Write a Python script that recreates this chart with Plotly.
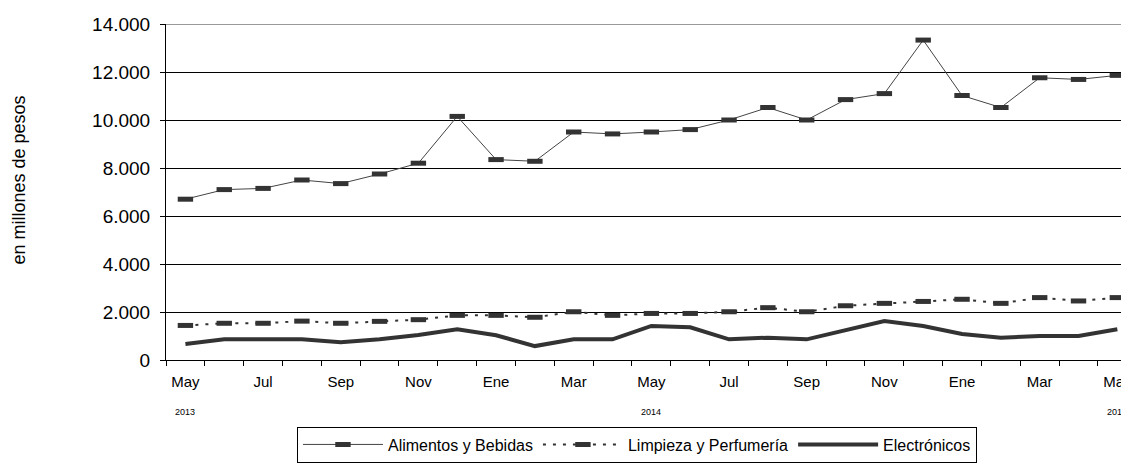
import plotly.graph_objects as go

months = ["May", "Jun", "Jul", "Ago", "Sep", "Oct", "Nov", "Dic", "Ene", "Feb", "Mar", "Abr",
          "May", "Jun", "Jul", "Ago", "Sep", "Oct", "Nov", "Dic", "Ene", "Feb", "Mar", "Abr", "May"]
years = [2013] * 8 + [2014] * 12 + [2015] * 5
categories = [f"{m} {y}" for m, y in zip(months, years)]
tick_labels = [m if i % 2 == 0 else "" for i, m in enumerate(months)]
year_labels = {0: "2013", 12: "2014", 24: "2015"}

alimentos = [6700, 7100, 7150, 7500, 7350, 7750, 8200, 10150, 8350, 8280, 9500, 9420,
             9500, 9600, 10000, 10520, 10000, 10850, 11100, 13330, 11020, 10520, 11760, 11690, 11860]
limpieza = [1440, 1530, 1530, 1620, 1530, 1610, 1680, 1860, 1860, 1780, 2010, 1860,
            1940, 1940, 2010, 2180, 2010, 2260, 2360, 2440, 2530, 2360, 2600, 2460, 2600]
electronicos = [670, 860, 860, 860, 740, 860, 1040, 1280, 1030, 580, 860, 860,
                1420, 1360, 860, 930, 860, 1250, 1620, 1420, 1080, 930, 1000, 1000, 1280]

FONT = "Liberation Sans, Arial, sans-serif"
DARK = "#333333"

fig = go.Figure()
fig.add_trace(go.Scatter(
    x=categories, y=alimentos, name="Alimentos y Bebidas", mode="lines+markers",
    line=dict(color="#444444", width=1),
    marker=dict(symbol="line-ew", size=11, color=DARK, line=dict(color=DARK, width=5)),
))
fig.add_trace(go.Scatter(
    x=categories, y=limpieza, name="Limpieza y Perfumería", mode="lines+markers",
    line=dict(color=DARK, width=2, dash="3px,7px"),
    marker=dict(symbol="line-ew", size=11, color=DARK, line=dict(color=DARK, width=5)),
))
fig.add_trace(go.Scatter(
    x=categories, y=electronicos, name="Electrónicos", mode="lines",
    line=dict(color=DARK, width=4),
))

for i, txt in year_labels.items():
    fig.add_annotation(x=categories[i], y=-0.155, xref="x", yref="paper", text=txt,
                       showarrow=False, yanchor="middle",
                       font=dict(family=FONT, size=9, color="#000"))

fig.add_annotation(x=-0.153, y=0.536, xref="paper", yref="paper", text="en millones de pesos",
                   textangle=-90, showarrow=False, xanchor="center", yanchor="middle",
                   font=dict(family=FONT, size=18, color="#000"))

fig.add_shape(type="line", xref="paper", yref="y", x0=0, x1=1, y0=14000, y1=14000,
              line=dict(color="#999999", width=2))

fig.update_layout(
    width=1121, height=463,
    margin=dict(l=158, r=0, t=16, b=111),
    paper_bgcolor="white", plot_bgcolor="white",
    font=dict(family=FONT, color="#000"),
    showlegend=True,
    legend=dict(
        orientation="h", x=0.136, xanchor="left", y=-0.198, yanchor="top",
        bordercolor="#000", borderwidth=1, font=dict(family=FONT, size=16, color="#000"),
        bgcolor="white", itemwidth=80,
    ),
    xaxis=dict(
        type="category", range=[-0.5, 24.3], tickmode="array", tickvals=categories,
        ticktext=tick_labels, tickson="boundaries", ticks="outside", ticklen=5,
        tickcolor="#000", showline=True, linecolor="#000", linewidth=1, showgrid=False,
        tickfont=dict(family=FONT, size=15, color="#000"), automargin=False,
        tickangle=0, ticklabelstandoff=8,
    ),
    yaxis=dict(
        range=[0, 14000], tickvals=[0, 2000, 4000, 6000, 8000, 10000, 12000, 14000],
        ticktext=["0", "2.000", "4.000", "6.000", "8.000", "10.000", "12.000", "14.000"],
        ticks="outside", ticklen=5, tickcolor="#000", showline=True, linecolor="#000",
        linewidth=1, showgrid=True, gridcolor="#000", gridwidth=1, zeroline=False,
        tickfont=dict(family=FONT, size=19, color="#000"), automargin=False,
        ticklabelstandoff=6,
    ),
)

fig.write_html("out.html")
